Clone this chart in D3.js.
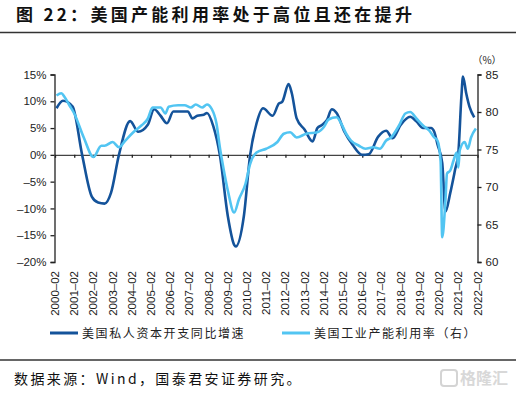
<!DOCTYPE html>
<html>
<head>
<meta charset="utf-8">
<script src="https://cdn.jsdelivr.net/npm/d3@7"></script>
<style>
  body { margin: 0; background: #fff; }
  svg { display: block; }
</style>
</head>
<body>
<div id="chart"></div>
<script>
// Capex yoy (left axis, %)
var capexDates = ["2000-03","2000-07","2001-01","2001-07","2002-01","2002-05","2002-09","2003-01","2003-06","2004-01",
  "2004-06","2004-12","2005-04","2005-08","2005-12","2006-04","2007-01","2007-04","2007-07","2007-11",
  "2008-01","2008-05","2008-09","2009-02","2009-06","2009-07","2009-12","2010-04","2010-08","2010-12",
  "2011-06","2011-10","2011-12","2012-04","2012-06","2012-09","2013-02","2013-07","2013-10","2014-01",
  "2014-04","2014-07","2014-10","2015-03","2015-08","2016-02","2016-06","2016-12","2017-05","2017-09",
  "2018-02","2018-08","2018-12","2019-04","2019-09","2019-11","2020-01","2020-04","2020-06","2020-09",
  "2020-12","2021-02","2021-04","2021-05","2021-07","2021-09","2021-12"];
var capexValues = [8.7,10.1,9.0,0,-7.8,-8.9,-9.1,-7.1,0,6.3,
  4.3,5.6,8.5,7.3,5.9,8.1,8.1,6.8,7.3,7.5,
  7.8,5.3,0,-11.5,-16.8,-17.1,-11.5,0,5.9,8.7,
  7.3,9.6,9.9,13.2,11.5,6.8,4.7,2.5,5.0,5.6,
  6.5,8.5,7.8,4.3,1.9,0,0.1,3.4,4.5,3.1,
  5.6,7.1,6.2,5.0,5.0,4.3,2.0,-1.5,-10.6,-7.1,
  -2.8,0.3,10.9,14.6,11.5,9.0,7.0];

// Capacity utilization (right axis, %)
var cuDates = ["2000-03","2000-06","2000-08","2000-11","2001-02","2001-08","2002-02","2002-07","2002-09","2003-02",
  "2003-06","2003-10","2004-03","2004-08","2004-12","2005-03","2005-08","2005-11","2006-01","2006-07",
  "2006-11","2007-03","2007-06","2007-10","2008-01","2008-04","2008-07","2008-09","2008-11","2009-02",
  "2009-06","2009-09","2010-01","2010-04","2010-08","2011-02","2011-09","2012-01","2012-05","2012-09",
  "2013-03","2013-10","2014-02","2014-05","2014-10","2015-01","2015-04","2015-07","2015-12","2016-04",
  "2016-09","2017-01","2017-05","2017-08","2018-01","2018-05","2018-08","2018-12","2019-04","2019-08",
  "2019-11","2020-01","2020-03","2020-04","2020-06","2020-07","2020-09","2020-11","2021-01","2021-02",
  "2021-03","2021-06","2021-08","2021-10","2022-01"];
var cuValues = [82.2,82.5,82.0,80.9,79.8,76.6,74.0,75.5,75.5,76.0,
  75.3,76.2,77.3,78.2,79.1,80.6,80.6,79.8,80.7,80.9,
  80.9,80.6,81.0,80.6,81.0,80.4,78.4,75.3,72.8,69.5,
  66.6,68.4,70.4,73.1,74.6,75.1,76.0,77.1,77.3,76.6,
  77.1,77.3,78.0,79.0,79.3,78.4,77.1,76.2,75.5,75.1,
  75.3,75.1,76.2,76.6,78.2,79.8,80.0,79.1,78.2,77.5,
  76.6,76.2,73.5,63.3,68.2,71.8,72.2,73.5,74.6,72.6,
  74.9,76.0,75.1,76.6,77.8];

var yearTicks = d3.range(2000, 2023).map(function(y){ return y + "-02"; });
var leftTicks = [-20,-15,-10,-5,0,5,10,15];
var rightTicks = [60,65,70,75,80,85];

var title = "图 22：美国产能利用率处于高位且还在提升";
var seriesNames = ["美国私人资本开支同比增速", "美国工业产能利用率（右）"];
var source = "数据来源：Wind，国泰君安证券研究。";

var W = 516, H = 394;
var dark = "#14539a", light = "#52c5f2";
var parse = d3.timeParse("%Y-%m");

var svg = d3.select("#chart").append("svg")
    .attr("width", W).attr("height", H);

// title + rules
svg.append("text")
    .attr("x", 16).attr("y", 21)
    .style("font-family", "'Noto Sans CJK SC'")
    .style("font-weight", "bold")
    .style("font-size", "17px")
    .style("letter-spacing", "3.3px")
    .style("fill", "#111")
    .text(title);
svg.append("line").attr("x1", 0).attr("x2", W).attr("y1", 32.5).attr("y2", 32.5)
    .style("stroke", "#333").style("stroke-width", 1.6);
svg.append("line").attr("x1", 0).attr("x2", W).attr("y1", 360).attr("y2", 360)
    .style("stroke", "#333").style("stroke-width", 1.4);

var x = d3.scaleTime().domain([parse("2000-02"), parse("2022-02")]).range([55, 477.5]);
var yL = d3.scaleLinear().domain([-20, 15]).range([262, 74.5]);
var yR = d3.scaleLinear().domain([60, 85]).range([262, 74.5]);

var axisFont = "'Liberation Sans', Arial, sans-serif";

// left axis
var gL = svg.append("g").attr("transform", "translate(54.5,0)")
    .call(d3.axisLeft(yL).tickValues(leftTicks).tickSizeOuter(0).tickSize(4)
      .tickFormat(function(d){ return (d < 0 ? "–" + (-d) : d) + "%"; }));
// right axis
var gR = svg.append("g").attr("transform", "translate(477.5,0)")
    .call(d3.axisRight(yR).tickValues(rightTicks).tickSizeOuter(0).tickSize(4));
[gL, gR].forEach(function(g){
  g.select(".domain").style("stroke", "#222").style("stroke-width", 1.3);
  g.selectAll(".tick line").style("stroke", "#222").style("stroke-width", 1.3);
  g.selectAll(".tick text").style("font-family", axisFont).style("font-size", "11.5px").style("fill", "#222");
});
gL.selectAll(".tick text").attr("x", -8);
gR.selectAll(".tick text").attr("x", 8);

svg.append("text").attr("x", 487).attr("y", 64)
    .attr("text-anchor", "middle")
    .style("font-family", "'Noto Sans CJK SC'").style("font-size", "10px").style("fill", "#222")
    .text("（%）");

// zero line with year ticks
var gX = svg.append("g").attr("transform", "translate(0," + yL(0) + ")")
    .call(d3.axisBottom(x).tickValues(yearTicks.map(parse)).tickSize(3).tickSizeOuter(0).tickFormat(""));
gX.select(".domain").attr("d", "M54.5,0.5H477.5").style("stroke", "#444").style("stroke-width", 1.4);
gX.selectAll(".tick line").style("stroke", "#222").style("stroke-width", 1.3);

// rotated year labels
svg.append("g").selectAll("text")
  .data(yearTicks)
  .enter().append("text")
    .attr("transform", function(d){ return "translate(" + (x(parse(d)) + 4) + ",271) rotate(-90)"; })
    .attr("text-anchor", "end")
    .style("font-family", axisFont).style("font-size", "11.5px").style("fill", "#222")
    .text(function(d){ return d.replace("-", "–"); });

// lines
var capex = capexDates.map(function(d, i){ return {date: parse(d), v: capexValues[i]}; });
var cu = cuDates.map(function(d, i){ return {date: parse(d), v: cuValues[i]}; });

svg.append("path").datum(capex)
    .attr("d", d3.line().curve(d3.curveMonotoneX)
      .x(function(d){ return x(d.date); }).y(function(d){ return yL(d.v); }))
    .style("fill", "none").style("stroke", dark).style("stroke-width", 2.6);

svg.append("path").datum(cu)
    .attr("d", d3.line().curve(d3.curveMonotoneX)
      .x(function(d){ return x(d.date); }).y(function(d){ return yR(d.v); }))
    .style("fill", "none").style("stroke", light).style("stroke-width", 2.6);

// legend
var legend = svg.append("g");
[[50, dark], [282, light]].forEach(function(p, i){
  legend.append("line").attr("x1", p[0]).attr("x2", p[0] + 28).attr("y1", 333).attr("y2", 333)
      .style("stroke", p[1]).style("stroke-width", 3);
  legend.append("text").attr("x", p[0] + 32).attr("y", 337.5)
      .style("font-family", "'Noto Sans CJK SC'").style("font-size", "12px")
      .style("letter-spacing", "1.6px").style("fill", "#222")
      .text(seriesNames[i]);
});

// source
svg.append("text").attr("x", 14).attr("y", 384)
    .style("font-family", "'Noto Sans CJK SC'").style("font-size", "14px")
    .style("letter-spacing", "2.4px").style("fill", "#111")
    .text(source);

// watermark
svg.append("rect").attr("x", 441).attr("y", 370).attr("width", 16).attr("height", 16).attr("rx", 3)
    .style("fill", "none").style("stroke", "#d4d4d4").style("stroke-width", 2);
svg.append("text").attr("x", 460).attr("y", 384)
    .style("font-family", "'Noto Sans CJK SC'").style("font-size", "16px").style("font-weight", "bold")
    .style("fill", "#d8d8d8")
    .text("格隆汇");
</script>
</body>
</html>
